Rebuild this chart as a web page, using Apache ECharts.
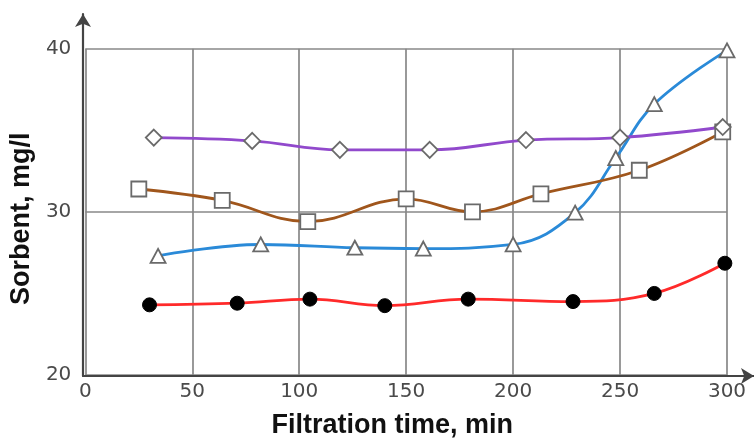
<!DOCTYPE html>
<html>
<head>
<meta charset="utf-8">
<script src="https://cdn.jsdelivr.net/npm/echarts@6/dist/echarts.min.js"></script>
<style>html,body{margin:0;padding:0;background:#fff}#c{width:754px;height:444px}</style>
</head>
<body>
<div id="c"></div>
<script>
const xTicks = [0, 50, 100, 150, 200, 250, 300];
const yTicks = [20, 30, 40];
const diamondX = [32, 78, 119, 161, 206, 250, 298];
const diamondY = [34.55, 34.35, 33.8, 33.8, 34.4, 34.55, 35.2];
const squareX = [25, 64, 104, 150, 181, 213, 259, 298];
const squareY = [31.4, 30.7, 29.4, 30.8, 30.0, 31.1, 32.55, 34.9];
const triangleX = [34, 82, 126, 158, 200, 229, 248, 266, 300];
const triangleY = [27.3, 28.0, 27.8, 27.75, 28.0, 29.95, 33.3, 36.6, 39.9];
const circleX = [30, 71, 105, 140, 179, 228, 266, 299];
const circleY = [24.3, 24.4, 24.65, 24.25, 24.65, 24.5, 25.0, 26.85];

const pairs = (xs, ys) => xs.map((x, i) => [x, ys[i]]);
const chart = echarts.init(document.getElementById('c'));
const lblStyle = { fontFamily: 'DejaVu Sans', fontSize: 20, color: '#4a4a4a' };
const marker = { color: '#fff', borderColor: '#6a6a6a', borderWidth: 1.8 };

chart.setOption({
  animation: false,
  grid: [
    { left: 83, right: 27, top: 48.7, bottom: 68 },
    { left: 83, right: 0, top: 14, bottom: 68 }
  ],
  xAxis: [
    {
      type: 'value', gridIndex: 0, min: xTicks[0], max: xTicks[xTicks.length - 1], interval: 50,
      axisLine: { show: false }, axisTick: { show: false },
      axisLabel: Object.assign({ margin: 7 }, lblStyle),
      splitLine: { show: true, lineStyle: { color: '#888', width: 1.7 } },
      name: 'Filtration time, min', nameLocation: 'middle', nameGap: 37,
      nameTextStyle: { fontFamily: 'Liberation Sans', fontWeight: 'bold', fontSize: 27, color: '#111', padding: [0, 28, 0, 0] }
    },
    {
      type: 'value', gridIndex: 1, min: 0, max: 1,
      axisLine: { show: true, onZero: false, symbol: ['none', 'arrow'], symbolSize: [12, 13], lineStyle: { color: '#444', width: 2.2 } },
      axisTick: { show: false }, axisLabel: { show: false }, splitLine: { show: false }
    }
  ],
  yAxis: [
    {
      type: 'value', gridIndex: 0, min: yTicks[0], max: yTicks[yTicks.length - 1], interval: 10,
      axisLine: { show: false }, axisTick: { show: false },
      axisLabel: Object.assign({ margin: 14 }, lblStyle),
      splitLine: { show: true, lineStyle: { color: '#888', width: 1.7 } },
      name: 'Sorbent, mg/l', nameLocation: 'middle', nameRotate: 90, nameGap: 50,
      nameTextStyle: { fontFamily: 'Liberation Sans', fontWeight: 'bold', fontSize: 27, color: '#111', padding: [0, 14, 0, 0] }
    },
    {
      type: 'value', gridIndex: 1, min: 0, max: 1,
      axisLine: { show: true, onZero: false, symbol: ['none', 'arrow'], symbolSize: [12, 13], lineStyle: { color: '#444', width: 2.2 } },
      axisTick: { show: false }, axisLabel: { show: false }, splitLine: { show: false }
    }
  ],
  series: [
    {
      type: 'line', data: pairs(circleX, circleY), smooth: 0.4,
      lineStyle: { color: '#ff2a2a', width: 2.8 },
      symbol: 'circle', symbolSize: 14, itemStyle: { color: '#000', borderColor: '#000' }
    },
    {
      type: 'line', data: pairs(triangleX, triangleY), smooth: 0.4,
      lineStyle: { color: '#2a8ad8', width: 2.8 },
      symbol: 'triangle', symbolSize: [15, 14], itemStyle: marker
    },
    {
      type: 'line', data: pairs(squareX, squareY), smooth: 0.4,
      lineStyle: { color: '#a0561c', width: 2.8 },
      symbol: 'rect', symbolSize: 15, itemStyle: marker
    },
    {
      type: 'line', data: pairs(diamondX, diamondY), smooth: 0.4,
      lineStyle: { color: '#9149cc', width: 2.8 },
      symbol: 'diamond', symbolSize: 16, itemStyle: marker
    }
  ]
});
</script>
</body>
</html>
